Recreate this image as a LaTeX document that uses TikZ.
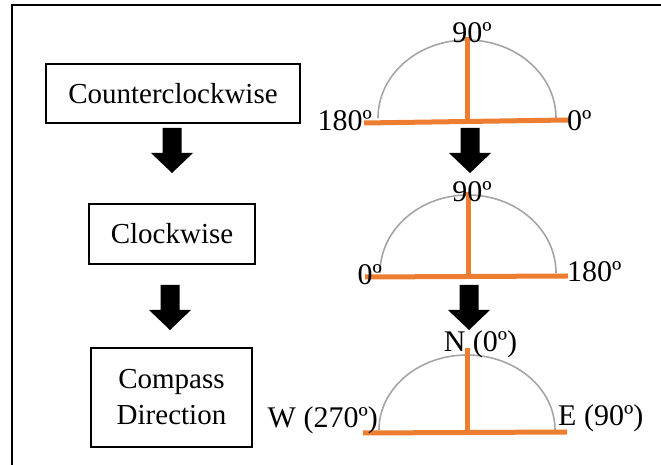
\documentclass[tikz,border=0pt]{standalone}
\usepackage{fontspec}
\setmainfont{Liberation Serif}
\definecolor{axisorange}{HTML}{ED7D31}
\definecolor{arcgray}{HTML}{A5A5A5}
\tikzset{
  labelbox/.style={draw=black, line width=1.5pt, minimum height=59pt, font=\fontsize{29}{36}\selectfont, align=center, inner sep=0pt},
  axisline/.style={draw=axisorange, line width=5pt},
  halfarc/.style={draw=arcgray, line width=1.6pt},
  anglabel/.style={font=\fontsize{30}{36}\selectfont, inner sep=0pt},
  barrow/.pic={\fill[black] (-9.5,0) -- (9.5,0) -- (9.5,-25) -- (21,-25) -- (0,-45) -- (-21,-25) -- (-9.5,-25) -- cycle;}
}
\begin{document}
\begin{tikzpicture}[x=1pt,y=1pt]
\useasboundingbox (0,0) rectangle (661,465);
% outer frame (top and left edges)
\draw[line width=1.6pt] (12,0) -- (12,460) -- (661,460);

% left column boxes
\node[labelbox, minimum width=254pt] (ccw) at (173,371.5) {Counterclockwise};
\node[labelbox, minimum width=166pt, minimum height=60pt] (cw) at (172,231) {Clockwise};
\node[labelbox, minimum width=161pt, minimum height=99pt] (comp) at (171.5,67.5) {Compass\\Direction};

% left block arrows
\coordinate (la1) at (172,337);
\coordinate (la2) at (170,180);
\pic at (la1) {barrow};
\pic at (la2) {barrow};

% semicircle 1 (counterclockwise)
\coordinate (c1) at (467,347);
\draw[halfarc] (378,347) arc[start angle=180, end angle=0, x radius=89, y radius=78];
\draw[axisline] (364,342) -- (568,345);
\draw[axisline] (467,344) -- (467,428);
\node[anglabel, anchor=base] (t1) at (472,422) {90º};
\node[anglabel, anchor=base east] (l1) at (372,334) {180º};
\node[anglabel, anchor=base west] (r1) at (567,334) {0º};

% right arrows
\coordinate (ra1) at (470,337);
\coordinate (ra2) at (469,180);
\pic at (ra1) {barrow};
\pic at (ra2) {barrow};

% semicircle 2 (clockwise)
\draw[halfarc] (380,192) arc[start angle=180, end angle=0, x radius=88, y radius=78];
\draw[axisline] (365,188) -- (568,189);
\draw[axisline] (468,188) -- (468,273);
\node[anglabel, anchor=base] (t2) at (472,263) {90º};
\node[anglabel, anchor=base east] (l2) at (382,180) {0º};
\node[anglabel, anchor=base west] (r2) at (567,183) {180º};

% semicircle 3 (compass)
\draw[halfarc] (379,35) arc[start angle=180, end angle=0, x radius=88, y radius=75];
\draw[axisline] (363,32) -- (567,33);
\draw[axisline] (467,32) -- (467,117);
\node[anglabel, anchor=base] (t3) at (480.5,113) {N (0º)};
\node[anglabel, anchor=base east] (l3) at (378,37) {W (270º)};
\node[anglabel, anchor=base west] (r3) at (558,39) {E (90º)};
\end{tikzpicture}
\end{document}
